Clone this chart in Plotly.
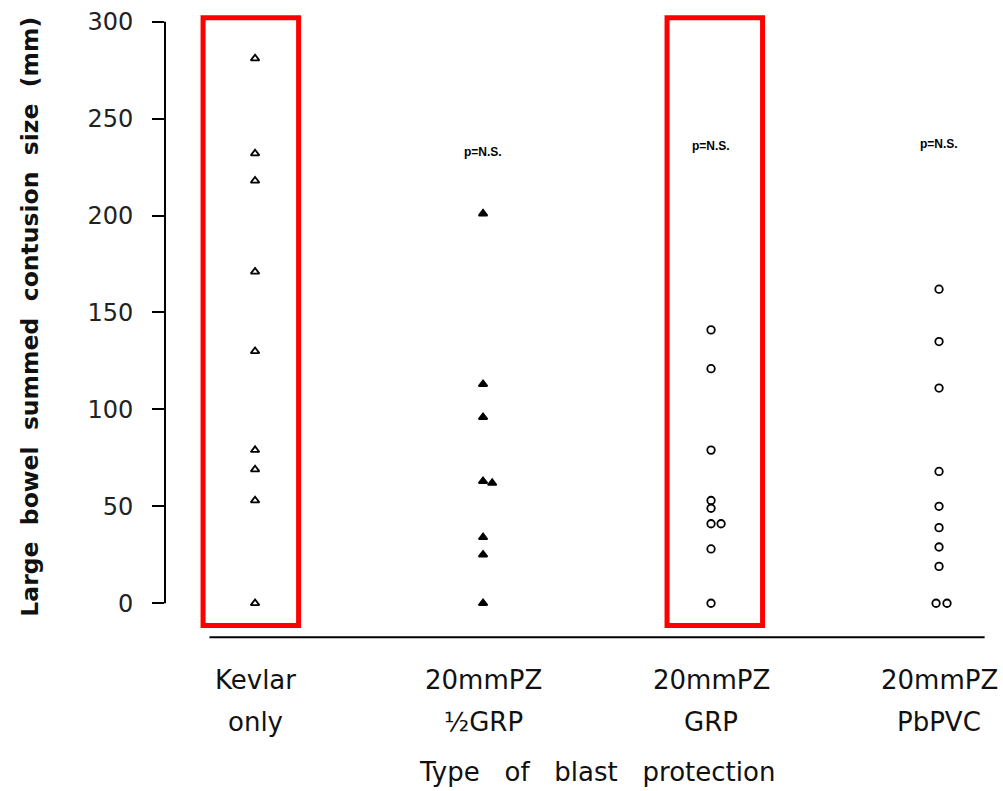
import plotly.graph_objects as go

# ---- data ----
categories_line1 = ["Kevlar", "20mmPZ", "20mmPZ", "20mmPZ"]
categories_line2 = ["only", "½GRP", "GRP", "PbPVC"]

kevlar = [281, 232, 218, 171, 130, 79, 69, 53, 0]
half_grp = [201, 113, 96, 63, 62, 34, 25, 0]
grp = [141, 121, 79, 53, 49, 41, 41, 28, 0]
pbpvc = [162, 135, 111, 68, 50, 39, 29, 19, 0, 0]

# small horizontal offsets used in the original to separate overlapping points
kevlar_jit = [0, 0, 0, 0, 0, 0, 0, 0, 0]
half_grp_jit = [0, 0, 0, 0, 0.04, 0, 0, 0]
grp_jit = [0, 0, 0, 0, 0, 0, 0.044, 0, 0]
pbpvc_jit = [0, 0, 0, 0, 0, 0, 0, 0, -0.013, 0.035]

pvalue_text = ["", "p=N.S.", "p=N.S.", "p=N.S."]
pvalue_y = [None, 233, 236, 237]

y_ticks = [0, 50, 100, 150, 200, 250, 300]

x_title = "Type of blast protection"
y_title = "Large bowel summed contusion size (mm)"

fig = go.Figure()

groups = [
    (kevlar, kevlar_jit, "triangle-up-open"),
    (half_grp, half_grp_jit, "triangle-up"),
    (grp, grp_jit, "circle-open"),
    (pbpvc, pbpvc_jit, "circle-open"),
]
for i, (vals, jit, sym) in enumerate(groups):
    fig.add_trace(go.Scatter(
        x=[i + j for j in jit], y=vals, mode="markers",
        marker=dict(symbol=sym, size=7.5, color="black",
                    line=dict(color="black", width=1.8)),
        showlegend=False, cliponaxis=False,
    ))

# p-value annotations
for i, (t, yv) in enumerate(zip(pvalue_text, pvalue_y)):
    if t:
        fig.add_annotation(x=i, y=yv, text=t, showarrow=False,
                           font=dict(family="Liberation Sans", size=12, color="black",
                                     weight="bold"))

# category labels (two lines, widely spaced)
for i, (l1, l2) in enumerate(zip(categories_line1, categories_line2)):
    fig.add_annotation(x=i, y=-0.060, xref="x", yref="paper", yanchor="middle",
                       text=l1, showarrow=False,
                       font=dict(family="DejaVu Sans", size=26, color="#111"))
    fig.add_annotation(x=i, y=-0.127, xref="x", yref="paper", yanchor="middle",
                       text=l2, showarrow=False,
                       font=dict(family="DejaVu Sans", size=26, color="#111"))

sp = "\u00a0\u00a0\u00a0"
sp2 = "\u00a0\u00a0"
# axis titles
fig.add_annotation(x=0.526, y=-0.206, xref="paper", yref="paper", yanchor="middle",
                   text=x_title.replace(" ", sp), showarrow=False,
                   font=dict(family="DejaVu Sans", size=26, color="#111"))
fig.add_annotation(x=-0.164, y=148, xref="paper", yref="y", xanchor="center",
                   yanchor="middle", textangle=-90,
                   text=y_title.replace(" ", sp2), showarrow=False,
                   font=dict(family="DejaVu Sans", size=23.5, color="#111", weight="bold"))

# red highlight boxes
for x0, x1 in [(-0.228, 0.191), (1.807, 2.226)]:
    fig.add_shape(type="rect", x0=x0, x1=x1, y0=-11.5, y1=302, xref="x", yref="y",
                  line=dict(color="#ff0000", width=5))

# y axis line (0..300) and bottom baseline
fig.add_shape(type="line", xref="paper", yref="y", x0=0, x1=0, y0=0, y1=300,
              line=dict(color="black", width=2))
fig.add_shape(type="line", xref="x", yref="y", x0=-0.2, x1=3.2, y0=-17.5, y1=-17.5,
              line=dict(color="black", width=2))

fig.update_layout(
    width=1003, height=791,
    margin=dict(l=165, r=17, t=8, b=149),
    plot_bgcolor="white", paper_bgcolor="white",
    xaxis=dict(range=[-0.395, 3.206], showgrid=False, zeroline=False,
               showticklabels=False, showline=False, ticks=""),
    yaxis=dict(range=[-20, 305], showgrid=False, zeroline=False, showline=False,
               tickvals=y_ticks, ticks="outside", ticklen=12, tickwidth=2,
               tickcolor="black", ticklabelstandoff=14,
               tickfont=dict(family="DejaVu Sans", size=24, color="#222")),
)

fig.write_html("out.html")
